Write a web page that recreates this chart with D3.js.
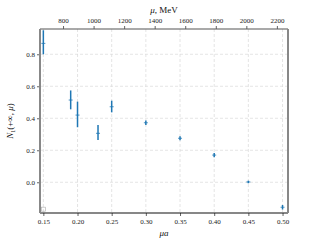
<!DOCTYPE html>
<html>
<head>
<script src="https://d3js.org/d3.v7.min.js"></script>
<style>
  body {margin: 0; background: #fff;}
  text {font-family: "Liberation Serif", "DejaVu Serif", serif;}
</style>
</head>
<body>
<div id="chart"></div>
<script>
  // mu*a values and N_1(+inf, mu) with error ranges
  var mua = [0.15, 0.19, 0.20, 0.23, 0.25, 0.30, 0.35, 0.40, 0.45, 0.50];
  var nval = [0.868, 0.514, 0.42, 0.306, 0.472, 0.372, 0.275, 0.17, 0.002, -0.156];
  var nlow = [0.80, 0.456, 0.344, 0.264, 0.437, 0.358, 0.262, 0.157, -0.006, -0.17];
  var nhigh = [0.95, 0.574, 0.504, 0.358, 0.51, 0.386, 0.288, 0.183, 0.01, -0.142];
  var bottomTicks = [0.15, 0.20, 0.25, 0.30, 0.35, 0.40, 0.45, 0.50];
  var leftTicks = [0.0, 0.2, 0.4, 0.6, 0.8];
  var topTicks = [800, 1000, 1200, 1400, 1600, 1800, 2000, 2200];
  var invA = 4474; // MeV per unit of mu*a
  var hollow = [{x: 0.15, y: -0.168}];

  var margin = {top: 29, right: 32, bottom: 27, left: 40};
  var width = 320 - margin.left - margin.right;
  var height = 240 - margin.top - margin.bottom;

  var svg = d3.select("#chart").append("svg")
      .attr("width", 320)
      .attr("height", 240)
      .append("g")
      .attr("transform", "translate(" + margin.left + "," + margin.top + ")");

  var x = d3.scaleLinear().domain([0.1451, 0.508]).range([0, width]);
  var y = d3.scaleLinear().domain([-0.192, 0.958]).range([height, 0]);
  var xTop = d3.scaleLinear()
      .domain([0.1451 * invA, 0.508 * invA]).range([0, width]);

  // grid
  svg.append("g").selectAll("line").data(bottomTicks).enter().append("line")
      .attr("x1", d => x(d)).attr("x2", d => x(d))
      .attr("y1", 0).attr("y2", height)
      .attr("stroke", "#d8d8d8").attr("stroke-width", 0.7)
      .attr("stroke-dasharray", "3,2");
  svg.append("g").selectAll("line").data(leftTicks).enter().append("line")
      .attr("x1", 0).attr("x2", width)
      .attr("y1", d => y(d)).attr("y2", d => y(d))
      .attr("stroke", "#d8d8d8").attr("stroke-width", 0.7)
      .attr("stroke-dasharray", "3,2");

  // axes
  var bottomAxis = svg.append("g")
      .attr("transform", "translate(0," + height + ")")
      .call(d3.axisBottom(x).tickValues(bottomTicks).tickFormat(d3.format(".2f")).tickSize(3).tickSizeOuter(0));
  var leftAxis = svg.append("g")
      .call(d3.axisLeft(y).tickValues(leftTicks).tickFormat(d3.format(".1f")).tickSize(3).tickSizeOuter(0));
  var topAxis = svg.append("g")
      .call(d3.axisTop(xTop).tickValues(topTicks).tickFormat(d3.format("d")).tickSize(3).tickSizeOuter(0));

  [bottomAxis, leftAxis, topAxis].forEach(function(a) {
      a.selectAll("text").attr("font-size", 7).attr("fill", "#222")
          .style("font-family", "'Liberation Serif', serif");
      a.select(".domain").remove();
      a.selectAll(".tick line").attr("stroke", "#222").attr("stroke-width", 0.7);
  });
  leftAxis.selectAll("text").attr("x", -5);

  // spines
  svg.append("line").attr("x1", 0).attr("x2", width).attr("y1", height).attr("y2", height)
      .attr("stroke", "#111").attr("stroke-width", 1.2);
  svg.append("line").attr("x1", 0).attr("x2", width).attr("y1", 0).attr("y2", 0)
      .attr("stroke", "#555").attr("stroke-width", 1.2);
  svg.append("line").attr("x1", 0).attr("x2", 0).attr("y1", 0).attr("y2", height)
      .attr("stroke", "#888").attr("stroke-width", 2);
  svg.append("line").attr("x1", width).attr("x2", width).attr("y1", 0).attr("y2", height)
      .attr("stroke", "#888").attr("stroke-width", 2);

  // error bars
  var pts = mua.map((d, i) => ({x: d, v: nval[i], lo: nlow[i], hi: nhigh[i]}));
  svg.append("g").selectAll("line").data(pts).enter().append("line")
      .attr("x1", d => x(d.x)).attr("x2", d => x(d.x))
      .attr("y1", d => y(d.lo)).attr("y2", d => y(d.hi))
      .attr("stroke", "#1f77b4").attr("stroke-width", 1.5);
  svg.append("g").selectAll("line").data(pts).enter().append("line")
      .attr("x1", d => x(d.x) - 2).attr("x2", d => x(d.x) + 2)
      .attr("y1", d => y(d.v)).attr("y2", d => y(d.v))
      .attr("stroke", "#1f77b4").attr("stroke-width", 0.8);

  // hollow marker
  svg.append("g").selectAll("rect").data(hollow).enter().append("rect")
      .attr("x", d => x(d.x) - 2).attr("y", d => y(d.y) - 2)
      .attr("width", 4).attr("height", 4)
      .attr("fill", "none").attr("stroke", "#aaa").attr("stroke-width", 0.6);

  // labels
  svg.append("text").attr("x", width / 2).attr("y", height + 23)
      .attr("text-anchor", "middle").attr("font-size", 9).attr("font-style", "italic")
      .attr("fill", "#111")
      .text("μa");
  svg.append("text").attr("x", width / 2).attr("y", -16)
      .attr("text-anchor", "middle").attr("font-size", 9).attr("fill", "#111")
      .html("<tspan font-style='italic'>μ</tspan>, MeV");
  svg.append("text")
      .attr("transform", "translate(-27," + (height / 2) + ") rotate(-90)")
      .attr("text-anchor", "middle").attr("font-size", 9).attr("fill", "#111")
      .html("<tspan font-style='italic'>N</tspan><tspan font-size='6' dy='2'>1</tspan><tspan dy='-2'>(+∞, </tspan><tspan font-style='italic'>μ</tspan>)");
</script>
</body>
</html>
